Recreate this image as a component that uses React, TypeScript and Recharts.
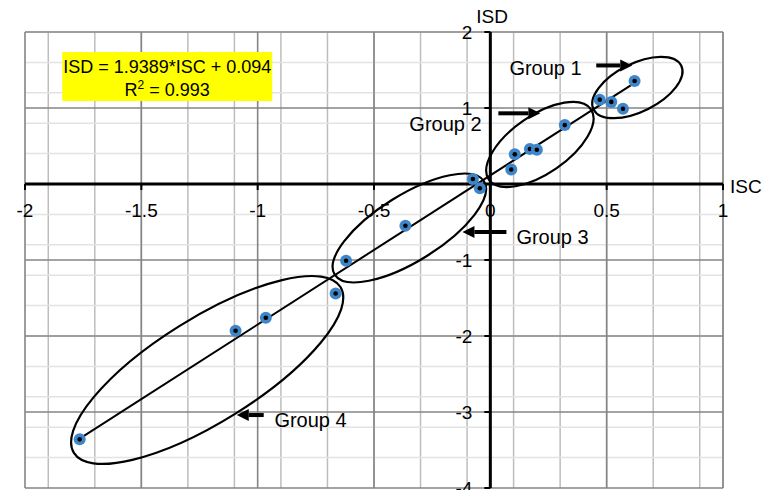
import { ScatterChart, Scatter, XAxis, YAxis, CartesianGrid, ReferenceLine } from "recharts";

// measured points (ISC, ISD)
const iscValues = [0.62, 0.47, 0.52, 0.57, 0.32, 0.17, 0.2, 0.105, 0.09, -0.075, -0.045, -0.365, -0.62, -0.665, -0.965, -1.095, -1.765];
const isdValues = [1.355, 1.11, 1.08, 0.99, 0.775, 0.46, 0.45, 0.39, 0.19, 0.065, -0.055, -0.55, -1.01, -1.44, -1.76, -1.93, -3.36];

// regression line end points
const trendIsc = [-1.765, 0.62];
const trendIsd = [-3.35, 1.33];

// group ellipse centres
const ellipseIsc = [0.632, 0.213, -0.348, -1.217];
const ellipseIsd = [1.27, 0.52, -0.579, -2.447];

// group labels and arrow tips
const groupNames = ["Group 1", "Group 2", "Group 3", "Group 4"];
const labelIsc = [0.082, -0.348, 0.112, -0.928];
const labelIsd = [1.52, 0.79, -0.7, -3.105];
const arrowIsc = [0.61, 0.215, -0.12, -1.09];
const arrowIsd = [1.56, 0.93, -0.63, -3.04];

// axis ticks
const xTicks = [-2, -1.5, -1, -0.5, 0, 0.5, 1];
const xTickLabels = ["-2", "-1.5", "-1", "-0.5", "0", "0.5", "1"];
const yTicks = [2, 1, -1, -2, -3, -4];
const yTickLabels = ["2", "1", "-1", "-2", "-3", "-4"];

// ellipse sizes (px) and tilt, arrow direction/length
const ellipseStyle = [
  { rx: 49, ry: 24, angle: 26.6 },
  { rx: 62, ry: 29, angle: 34.6 },
  { rx: 88, ry: 33, angle: 32 },
  { rx: 157, ry: 52, angle: 31.9 },
];
const arrowStyle = [
  { dir: 1, len: 36 },
  { dir: 1, len: 42 },
  { dir: -1, len: 44 },
  { dir: -1, len: 27 },
];

const FONT = "'Liberation Sans', Arial, sans-serif";

const points = iscValues.map((x, i) => ({ x, y: isdValues[i] }));
const trend = trendIsc.map((x, i) => ({ x, y: trendIsd[i] }));
const ellipses = ellipseIsc.map((x, i) => ({ x, y: ellipseIsd[i], i }));
const labels = labelIsc.map((x, i) => ({ x, y: labelIsd[i], text: groupNames[i] }));
const arrows = arrowIsc.map((x, i) => ({ x, y: arrowIsd[i], i }));
const xTickData = xTicks.map((x, i) => ({ x, y: 0, text: xTickLabels[i] }));
const yTickData = yTicks.map((y, i) => ({ x: 0, y, text: yTickLabels[i] }));

const r1 = (v: number) => Math.round(v * 10) / 10;
const minorX = Array.from({ length: 31 }, (_, i) => r1(-2 + i * 0.1));
const minorY = Array.from({ length: 31 }, (_, i) => r1(-4 + i * 0.2));
const majorX = [-2, -1.5, -1, -0.5, 0.5, 1];
const majorY = [-4, -3, -2, -1, 1, 2];

const Nothing = () => <g />;

const PointShape = (p: any) => (
  <g>
    <circle cx={p.cx} cy={p.cy} r={6} fill="#3f86c9" />
    <circle cx={p.cx} cy={p.cy} r={2.3} fill="#000" />
  </g>
);

const EllipseShape = (p: any) => {
  const s = ellipseStyle[p.payload.i];
  return (
    <ellipse
      cx={p.cx}
      cy={p.cy}
      rx={s.rx}
      ry={s.ry}
      fill="none"
      stroke="#000"
      strokeWidth={2.2}
      transform={`rotate(${-s.angle} ${p.cx} ${p.cy})`}
    />
  );
};

const LabelShape = (p: any) => (
  <text x={p.cx} y={p.cy + 7} fontSize={20} fontFamily={FONT} fill="#000">
    {p.payload.text}
  </text>
);

const ArrowShape = (p: any) => {
  const { dir, len } = arrowStyle[p.payload.i];
  const tip = p.cx;
  const base = tip - dir * 12;
  return (
    <g>
      <line x1={tip - dir * len} y1={p.cy} x2={base} y2={p.cy} stroke="#000" strokeWidth={4} />
      <polygon points={`${tip},${p.cy} ${base},${p.cy - 6} ${base},${p.cy + 6}`} fill="#000" />
    </g>
  );
};

const XTickShape = (p: any) => (
  <g>
    <line x1={p.cx} y1={p.cy} x2={p.cx} y2={p.cy + 6} stroke="#000" strokeWidth={2} />
    <text x={p.cx} y={p.cy + 33} textAnchor="middle" fontSize={19} fontFamily={FONT} fill="#000">
      {p.payload.text}
    </text>
  </g>
);

const YTickShape = (p: any) => (
  <g>
    <line x1={p.cx - 6} y1={p.cy} x2={p.cx} y2={p.cy} stroke="#000" strokeWidth={2} />
    <text x={p.cx - 18} y={p.cy + 7} textAnchor="end" fontSize={19} fontFamily={FONT} fill="#000">
      {p.payload.text}
    </text>
  </g>
);

const TitleShape = (p: any) =>
  p.payload.text === "ISD" ? (
    <text x={p.cx - 14} y={p.cy - 9} fontSize={19} fontFamily={FONT} fill="#000">ISD</text>
  ) : (
    <text x={p.cx + 7} y={p.cy + 9} fontSize={19} fontFamily={FONT} fill="#000">ISC</text>
  );

const EquationShape = (p: any) => (
  <g fontFamily={FONT} fontSize={18} fill="#000">
    <rect x={p.cx} y={p.cy} width={210} height={49} fill="#ffff00" />
    <text x={p.cx + 105} y={p.cy + 21} textAnchor="middle">ISD = 1.9389*ISC + 0.094</text>
    <text x={p.cx + 105} y={p.cy + 44} textAnchor="middle">
      R<tspan fontSize={12} dy={-7}>2</tspan>
      <tspan dy={7}> = 0.993</tspan>
    </text>
  </g>
);

const App = () => {
  return (
    <div style={{ position: "absolute", left: 0, top: 0, background: "#fff" }}>
      <ScatterChart width={768} height={490} margin={{ top: 32, right: 45, bottom: 2, left: 25 }}>
        <XAxis type="number" dataKey="x" domain={[-2, 1]} ticks={xTicks} hide />
        <YAxis type="number" dataKey="y" domain={[-4, 2]} ticks={[-4, -3, -2, -1, 0, 1, 2]} hide />
        <CartesianGrid horizontal={false} verticalValues={minorX} stroke="#bdbdbd" strokeWidth={1.5} />
        <CartesianGrid vertical={false} horizontalValues={minorY} stroke="#e3e3e3" strokeWidth={1.5} />
        {majorX.map((v) => (
          <ReferenceLine key={`mx${v}`} x={v} stroke="#858585" strokeWidth={1.6} />
        ))}
        {majorY.map((v) => (
          <ReferenceLine key={`my${v}`} y={v} stroke="#858585" strokeWidth={1.6} />
        ))}
        <ReferenceLine y={0} stroke="#000" strokeWidth={3} />
        <ReferenceLine x={0} stroke="#000" strokeWidth={3} />

        <Scatter data={xTickData} shape={XTickShape} isAnimationActive={false} />
        <Scatter data={yTickData} shape={YTickShape} isAnimationActive={false} />
        <Scatter
          data={[{ x: 0, y: 2, text: "ISD" }, { x: 1, y: 0, text: "ISC" }]}
          shape={TitleShape}
          isAnimationActive={false}
        />
        <Scatter data={[{ x: -1.84, y: 1.737 }]} shape={EquationShape} isAnimationActive={false} />

        <Scatter data={ellipses} shape={EllipseShape} isAnimationActive={false} />
        <Scatter
          data={trend}
          line={{ stroke: "#000", strokeWidth: 2 }}
          shape={Nothing}
          isAnimationActive={false}
        />
        <Scatter data={points} shape={PointShape} isAnimationActive={false} />
        <Scatter data={labels} shape={LabelShape} isAnimationActive={false} />
        <Scatter data={arrows} shape={ArrowShape} isAnimationActive={false} />
      </ScatterChart>
    </div>
  );
};

export default App;
